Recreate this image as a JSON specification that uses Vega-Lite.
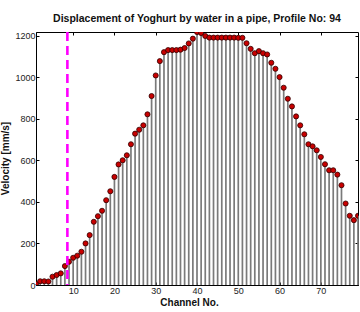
{
  "$schema": "https://vega.github.io/schema/vega-lite/v6.json",
  "width": 322,
  "height": 253,
  "autosize": {"type": "none"},
  "padding": {"left": 36, "top": 32, "right": 2, "bottom": 27},
  "background": "white",
  "title": {
    "text": "Displacement of Yoghurt by water in a pipe, Profile No: 94",
    "font": "Liberation Sans",
    "fontSize": 10.5,
    "fontWeight": "bold",
    "color": "#111",
    "anchor": "middle",
    "offset": 6
  },
  "config": {
    "view": {"stroke": "#000", "strokeWidth": 1},
    "axis": {
      "grid": false,
      "domainColor": "#000",
      "tickColor": "#000",
      "tickSize": -3,
      "labelFont": "Liberation Sans",
      "labelFontSize": 9,
      "labelColor": "#222",
      "titleFont": "Liberation Sans",
      "titleFontSize": 10,
      "titleFontWeight": "bold",
      "titleColor": "#111"
    }
  },
  "data": {
    "values": [
      {"c": 1, "v": 5}, {"c": 2, "v": 18}, {"c": 3, "v": 18}, {"c": 4, "v": 17},
      {"c": 5, "v": 40}, {"c": 6, "v": 48}, {"c": 7, "v": 56}, {"c": 8, "v": 91},
      {"c": 9, "v": 112}, {"c": 10, "v": 131}, {"c": 11, "v": 141}, {"c": 12, "v": 160},
      {"c": 13, "v": 200}, {"c": 14, "v": 240}, {"c": 15, "v": 304}, {"c": 16, "v": 331},
      {"c": 17, "v": 357}, {"c": 18, "v": 408}, {"c": 19, "v": 451}, {"c": 20, "v": 520},
      {"c": 21, "v": 580}, {"c": 22, "v": 600}, {"c": 23, "v": 624}, {"c": 24, "v": 677},
      {"c": 25, "v": 728}, {"c": 26, "v": 747}, {"c": 27, "v": 768}, {"c": 28, "v": 821},
      {"c": 29, "v": 909}, {"c": 30, "v": 1008}, {"c": 31, "v": 1077}, {"c": 32, "v": 1120},
      {"c": 33, "v": 1130}, {"c": 34, "v": 1130}, {"c": 35, "v": 1130}, {"c": 36, "v": 1132},
      {"c": 37, "v": 1140}, {"c": 38, "v": 1162}, {"c": 39, "v": 1185}, {"c": 40, "v": 1217},
      {"c": 41, "v": 1212}, {"c": 42, "v": 1198}, {"c": 43, "v": 1190}, {"c": 44, "v": 1190},
      {"c": 45, "v": 1190}, {"c": 46, "v": 1190}, {"c": 47, "v": 1190}, {"c": 48, "v": 1190},
      {"c": 49, "v": 1190}, {"c": 50, "v": 1189}, {"c": 51, "v": 1189}, {"c": 52, "v": 1163},
      {"c": 53, "v": 1136}, {"c": 54, "v": 1115}, {"c": 55, "v": 1125}, {"c": 56, "v": 1115},
      {"c": 57, "v": 1109}, {"c": 58, "v": 1069}, {"c": 59, "v": 1040}, {"c": 60, "v": 1000},
      {"c": 61, "v": 949}, {"c": 62, "v": 896}, {"c": 63, "v": 859}, {"c": 64, "v": 811},
      {"c": 65, "v": 768}, {"c": 66, "v": 725}, {"c": 67, "v": 677}, {"c": 68, "v": 667},
      {"c": 69, "v": 648}, {"c": 70, "v": 616}, {"c": 71, "v": 581}, {"c": 72, "v": 552},
      {"c": 73, "v": 552}, {"c": 74, "v": 531}, {"c": 75, "v": 480}, {"c": 76, "v": 392},
      {"c": 77, "v": 333}, {"c": 78, "v": 312}, {"c": 79, "v": 333}
    ]
  },
  "resolve": {"axis": {"x": "independent", "y": "independent"}},
  "layer": [
    {
      "mark": {"type": "rule", "color": "#7a7a7a", "strokeWidth": 1.7},
      "encoding": {
        "x": {
          "field": "c", "type": "quantitative",
          "scale": {"domain": [1, 79], "nice": false, "zero": false},
          "axis": {"orient": "bottom", "values": [10, 20, 30, 40, 50, 60, 70], "format": "d", "title": "Channel No.", "labelPadding": 4, "titleX": 153, "titlePadding": 2}
        },
        "y": {
          "field": "v", "type": "quantitative",
          "scale": {"domain": [0, 1217], "nice": false},
          "axis": {"orient": "left", "values": [0, 200, 400, 600, 800, 1000, 1200], "format": "d", "title": "Velocity [mm/s]", "labelPadding": 4, "titleX": -26, "titleY": 126}
        },
        "y2": {"datum": 0}
      }
    },
    {
      "mark": {"type": "point", "filled": true, "shape": "circle", "size": 26, "fill": "#c80000", "stroke": "#300000", "strokeWidth": 0.8, "opacity": 1, "clip": true},
      "encoding": {
        "x": {"field": "c", "type": "quantitative", "axis": {"orient": "top", "values": [10, 20, 30, 40, 50, 60, 70], "labels": false, "title": null, "domain": false}},
        "y": {"field": "v", "type": "quantitative", "axis": {"orient": "right", "values": [0, 200, 400, 600, 800, 1000, 1200], "labels": false, "title": null, "domain": false}}
      }
    },
    {
      "data": {"values": [{"xv": 8.6}]},
      "mark": {"type": "rule", "color": "#ff00ff", "strokeWidth": 2.6, "strokeDash": [9, 5]},
      "encoding": {
        "x": {"field": "xv", "type": "quantitative", "axis": null}
      }
    }
  ]
}
